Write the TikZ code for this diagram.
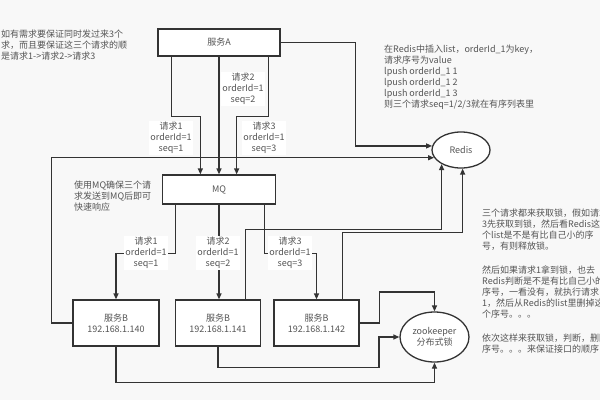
\documentclass[tikz,border=0pt]{standalone}
\usepackage{fontspec}
\setmainfont{Noto Sans CJK SC}
\usetikzlibrary{arrows.meta,shapes.geometric}
\definecolor{ln}{HTML}{333333}
\definecolor{tx}{HTML}{555555}
\definecolor{bg}{HTML}{F8F8F8}
\begin{document}
\begin{tikzpicture}[x=1pt,y=-1pt,
  font=\fontsize{9}{11}\selectfont, text=tx,
  line/.style={draw=ln,line width=1.3pt},
  arr/.style={line,-{Triangle[length=6pt,width=5pt]}},
  box/.style={draw=ln,line width=1.3pt,fill=white,inner sep=0pt,align=center},
  oval/.style={ellipse,draw=ln,line width=1.3pt,fill=white,inner sep=0pt,align=center},
  lbl/.style={fill=white,inner sep=1pt,align=center},
  note/.style={anchor=north west,inner sep=0pt,align=left}]
\useasboundingbox (0,0) rectangle (600,400);
\fill[bg] (0,0) rectangle (600,400);
\clip (0,0) rectangle (600,400);

% boxes
\node[box,minimum width=122pt,minimum height=27pt] (A) at (219,42.5) {服务A};
\node[box,minimum width=113pt,minimum height=29pt] (MQ) at (219,189.5) {MQ};
\node[box,minimum width=86pt,minimum height=46pt] (B1) at (116,323) {服务B\\192.168.1.140};
\node[box,minimum width=85pt,minimum height=46pt] (B2) at (218,323) {服务B\\192.168.1.141};
\node[box,minimum width=85pt,minimum height=46pt] (B3) at (316.5,323) {服务B\\192.168.1.142};
\node[oval,minimum width=58pt,minimum height=36pt] (R) at (461,150) {Redis};
\node[oval,minimum width=69pt,minimum height=50pt] (Z) at (434.5,337) {zookeeper\\分布式锁};

% A -> MQ
\draw[arr] ([xshift=14pt]A.south west) -- ++(0,60) -| ([xshift=38.5pt]MQ.north west);
\draw[arr] (A.south) -- (MQ.north);
\draw[arr] ([xshift=-12pt]A.south east) -- ++(0,60) -| ([xshift=-39.5pt]MQ.north east);

% MQ -> B
\draw[arr] ([xshift=13.5pt]MQ.south west) -- ++(0,49) -| (B1.north);
\draw[arr] (MQ.south) -- (MQ.south |- B2.north);
\draw[arr] ([xshift=-11.5pt]MQ.south east) -- ++(0,49) -| (B3.north);

% to Redis
\draw[arr] (A.east) -- ++(75,0) |- (R.172);
\draw[arr] (B1.west) -- ++(-21,0) |- (R.196);
\draw[arr] ([xshift=-16pt]B2.north east) -- ++(0,-70) -| (R.216);
\draw[arr] ([xshift=-17pt]B3.north east) -- ++(0,-67) -| (R.275);

% to zookeeper
\draw[arr] (B3.east) -- ++(20,0) -- ++(0,-31) -| (Z.north);
\draw[arr] (B2.south) -- ++(0,21) -- ++(161,0) |- (Z.west);
\draw[arr] (B1.south) -- ++(0,36) -| (Z.south);

% labels
\node[lbl] (la1) at (171,138) {请求1\\orderId=1\\seq=1};
\node[lbl] (la2) at (243,89) {请求2\\orderId=1\\seq=2};
\node[lbl] (la3) at (264,138) {请求3\\orderId=1\\seq=3};
\node[lbl] (lb1) at (146,253) {请求1\\orderId=1\\seq=1};
\node[lbl] (lb2) at (218,253) {请求2\\orderId=1\\seq=2};
\node[lbl] (lb3) at (290,253) {请求3\\orderId=1\\seq=3};

% notes
\node[note] (t1) at (1,30) {如有需求要保证同时发过来3个\\求，而且要保证这三个请求的顺\\是请求1->请求2->请求3};
\node[note] (t2) at (384,45) {在Redis中插入list，orderId\_1为key，\\请求序号为value\\lpush orderId\_1 1\\lpush orderId\_1 2\\lpush orderId\_1 3\\则三个请求seq=1/2/3就在有序列表里};
\node[note] (t3) at (74,181) {使用MQ确保三个请\\求发送到MQ后即可\\快速响应};
\node[note] (t4) at (482,209) {三个请求都来获取锁，假如请求\\3先获取到锁，然后看Redis这\\个list是不是有比自己小的序\\号，有则释放锁。\\[13pt]然后如果请求1拿到锁，也去\\Redis判断是不是有比自己小的\\序号，一看没有，就执行请求\\1，然后从Redis的list里删掉这\\个序号。。。\\[13pt]依次这样来获取锁，判断，删除\\序号。。。来保证接口的顺序};
\end{tikzpicture}
\end{document}
